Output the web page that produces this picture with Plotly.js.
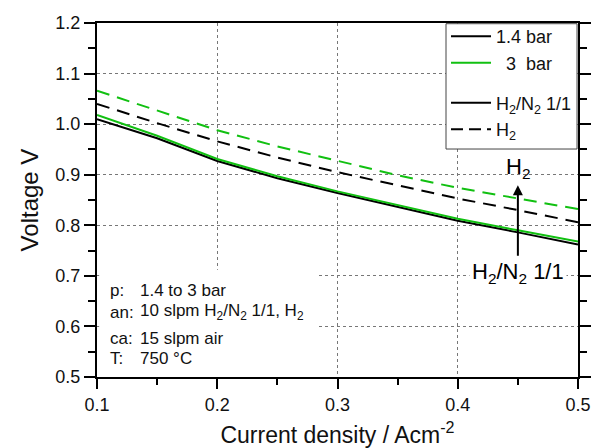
<!DOCTYPE html>
<html>
<head>
<meta charset="utf-8">
<script src="https://cdn.plot.ly/plotly-3.0.1.min.js"></script>
<style>html,body{margin:0;padding:0;background:#fff;}#chart{width:602px;height:448px;}</style>
</head>
<body>
<div id="chart"></div>
<script>
// Current density (A/cm2)
var currentDensity = [0.10, 0.15, 0.20, 0.25, 0.30, 0.35, 0.40, 0.45, 0.50];
// Voltage (V)
var h2n2_1p4bar = [1.010, 0.972, 0.927, 0.893, 0.864, 0.836, 0.809, 0.786, 0.762];
var h2n2_3bar   = [1.018, 0.977, 0.931, 0.897, 0.867, 0.840, 0.813, 0.790, 0.768];
var h2_1p4bar   = [1.040, 1.002, 0.966, 0.934, 0.905, 0.879, 0.853, 0.830, 0.806];
var h2_3bar     = [1.066, 1.027, 0.988, 0.956, 0.927, 0.899, 0.874, 0.853, 0.832];

var legendNames = ["1.4 bar", "\u00a0\u00a03\u00a0\u00a0bar", "H<sub>2</sub>/N<sub>2</sub> 1/1", "H<sub>2</sub>"];
var boxLabels = ["p:", "an:", "ca:", "T:"];
var boxValues = ["1.4 to 3 bar", "10 slpm H<sub>2</sub>/N<sub>2</sub> 1/1, H<sub>2</sub>", "15 slpm air", "750 °C"];
var boxRows = [0.672, 0.628, 0.577, 0.536];

var BLACK = "#000", GREEN = "#11c011";
var DASH = "13px,8px";
var FONT = "Liberation Sans, Arial, sans-serif";

var traces = [
  {x: currentDensity, y: h2n2_1p4bar, mode: "lines", line: {color: BLACK, width: 2}, showlegend: false, hoverinfo: "skip"},
  {x: currentDensity, y: h2n2_3bar, mode: "lines", line: {color: GREEN, width: 2}, showlegend: false, hoverinfo: "skip"},
  {x: currentDensity, y: h2_1p4bar, mode: "lines", line: {color: BLACK, width: 2, dash: DASH}, showlegend: false, hoverinfo: "skip"},
  {x: currentDensity, y: h2_3bar, mode: "lines", line: {color: GREEN, width: 2, dash: DASH}, showlegend: false, hoverinfo: "skip"},
  {x: [null], y: [null], mode: "lines", name: legendNames[0], legend: "legend", line: {color: BLACK, width: 2}},
  {x: [null], y: [null], mode: "lines", name: legendNames[1], legend: "legend", line: {color: GREEN, width: 2}},
  {x: [null], y: [null], mode: "lines", name: legendNames[2], legend: "legend2", line: {color: BLACK, width: 2}},
  {x: [null], y: [null], mode: "lines", name: legendNames[3], legend: "legend2", line: {color: BLACK, width: 2, dash: "12px,6px"}}
];

var annotations = [];
for (var i = 0; i < boxLabels.length; i++) {
  annotations.push({x: 0.109, y: boxRows[i], xref: "x", yref: "y", xanchor: "left", yanchor: "middle",
    text: boxLabels[i], showarrow: false, font: {family: FONT, size: 17, color: "#111"}});
  annotations.push({x: 0.1345, y: boxRows[i], xref: "x", yref: "y", xanchor: "left", yanchor: "middle",
    text: boxValues[i], showarrow: false, font: {family: FONT, size: 17, color: "#111"}});
}
annotations.push({x: 0.45, y: 0.879, ax: 0.45, ay: 0.737, xref: "x", yref: "y", axref: "x", ayref: "y",
  text: "", showarrow: true, arrowhead: 2, arrowsize: 1, arrowwidth: 2, arrowcolor: BLACK});
annotations.push({x: 0.45, y: 0.913, xref: "x", yref: "y", text: "H<sub>2</sub>", showarrow: false,
  font: {family: FONT, size: 22, color: BLACK}});
annotations.push({x: 0.45, y: 0.705, xref: "x", yref: "y", text: "H<sub>2</sub>/N<sub>2</sub> 1/1", showarrow: false,
  bgcolor: "#ffffff", borderpad: 2, font: {family: FONT, size: 22, color: BLACK}});

var legendCommon = {xanchor: "left", yanchor: "top", bgcolor: "rgba(0,0,0,0)", borderwidth: 0, itemwidth: 40,
  font: {family: FONT, size: 18, color: "#111"}};

var layout = {
  width: 602, height: 448,
  margin: {l: 97, r: 24, t: 23, b: 71},
  font: {family: FONT, size: 18, color: "#111"},
  showlegend: true,
  legend: Object.assign({x: 0.7256, y: 1.014}, legendCommon),
  legend2: Object.assign({x: 0.7256, y: 0.826}, legendCommon),
  xaxis: {
    range: [0.1, 0.5], tickmode: "linear", tick0: 0.1, dtick: 0.1, tickformat: ".1f",
    ticks: "outside", ticklen: 10, tickwidth: 2, tickcolor: BLACK,
    minor: {dtick: 0.05, ticks: "outside", ticklen: 6, tickwidth: 2, tickcolor: BLACK},
    showline: true, linecolor: BLACK, linewidth: 2, mirror: true,
    showgrid: true, gridcolor: "#777", griddash: "dot", gridwidth: 1,
    zeroline: false,
    title: {text: "Current density / Acm<sup>-2</sup>", font: {family: FONT, size: 23, color: "#111"}}
  },
  yaxis: {
    range: [0.5, 1.2], tickmode: "linear", tick0: 0.5, dtick: 0.1, tickformat: ".1f",
    ticks: "outside", ticklen: 11, tickwidth: 2, tickcolor: BLACK,
    minor: {dtick: 0.05, ticks: "outside", ticklen: 7, tickwidth: 2, tickcolor: BLACK},
    showline: true, linecolor: BLACK, linewidth: 2, mirror: "ticks",
    showgrid: true, gridcolor: "#777", griddash: "dot", gridwidth: 1,
    zeroline: false,
    title: {text: "Voltage V", font: {family: FONT, size: 24, color: "#111"}}
  },
  shapes: [
    {type: "rect", xref: "x", yref: "y", x0: 0.1018, x1: 0.283, y0: 0.5045, y1: 0.712,
      fillcolor: "#fff", line: {width: 0}, layer: "above"},
    {type: "rect", xref: "paper", yref: "paper", x0: 0.7256, x1: 0.998, y0: 0.644, y1: 0.998,
      fillcolor: "#fff", line: {width: 1, color: "#444"}, layer: "above"}
  ],
  annotations: annotations
};

Plotly.newPlot("chart", traces, layout, {staticPlot: true});
</script>
</body>
</html>
